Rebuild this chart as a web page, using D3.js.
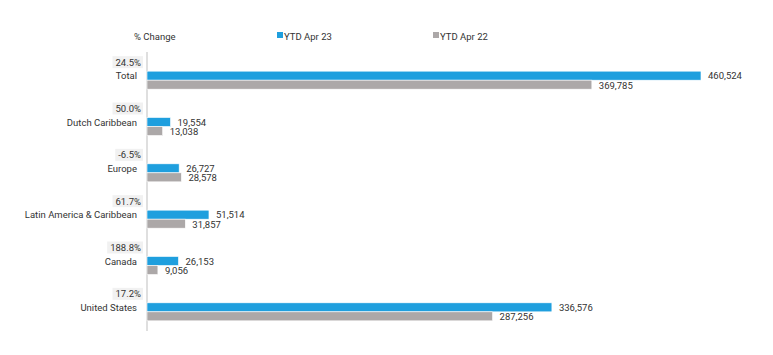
<!DOCTYPE html>
<html><head><meta charset="utf-8">
<script src="https://cdn.jsdelivr.net/npm/d3@7"></script>
<style>body{margin:0;background:#fff}svg{display:block}text{font-family:Roboto,sans-serif;font-size:9.5px;fill:#333}</style>
</head><body><svg id="c" width="773" height="355"></svg>
<script>
const categories = ["Total","Dutch Caribbean","Europe","Latin America & Caribbean","Canada","United States"];
const ytd23 = [460524,19554,26727,51514,26153,336576];
const ytd22 = [369785,13038,28578,31857,9056,287256];
const pctChange = ["24.5%","50.0%","-6.5%","61.7%","188.8%","17.2%"];
const seriesNames = ["YTD Apr 23","YTD Apr 22"];
const colors = ["#1f9fde","#aca8a8"];

const svg = d3.select("#c");
const x0 = 147;
const x = d3.scaleLinear().domain([0,460524]).range([x0,701]);
const y = d3.scaleBand().domain(categories).range([57,335]).padding(0);
const barH = 9;
const fmt = d3.format(",");

// legend
svg.append("text").attr("x",134).attr("y",39.5).text("% Change");
const lx=[277,433];
seriesNames.forEach((s,i)=>{
  svg.append("rect").attr("x",lx[i]).attr("y",32).attr("width",6).attr("height",6).attr("fill",colors[i]);
  svg.append("text").attr("x",lx[i]+7).attr("y",39.5).text(s);
});

// axis line
svg.append("line").attr("x1",x0).attr("x2",x0).attr("y1",52).attr("y2",331).attr("stroke","#d4d4d4").attr("stroke-width",1.5);

categories.forEach((c,i)=>{
  const mid = y(c)+y.bandwidth()/2;
  const t = svg.append("text").attr("x",141).attr("y",mid-18+3.4).attr("text-anchor","end").text(pctChange[i]);
  const w = t.node().getComputedTextLength();
  svg.insert("rect","text").attr("x",141-w-3).attr("y",mid-24).attr("width",w+5).attr("height",12).attr("fill","#f1f1f1");
  svg.append("text").attr("x",137).attr("y",mid-0.7).attr("text-anchor","end").text(c);
  [ytd23[i],ytd22[i]].forEach((v,j)=>{
    const by = mid - barH + j*barH;
    svg.append("rect").attr("x",x0).attr("y",by).attr("width",x(v)-x0).attr("height",barH)
      .attr("fill",colors[j]).attr("stroke","#fff").attr("stroke-width",0.6);
    svg.append("text").attr("x",x(v)+7).attr("y",by+barH/2+3.5 + (j?0.6:0)).text(fmt(v));
  });
});
</script></body></html>
